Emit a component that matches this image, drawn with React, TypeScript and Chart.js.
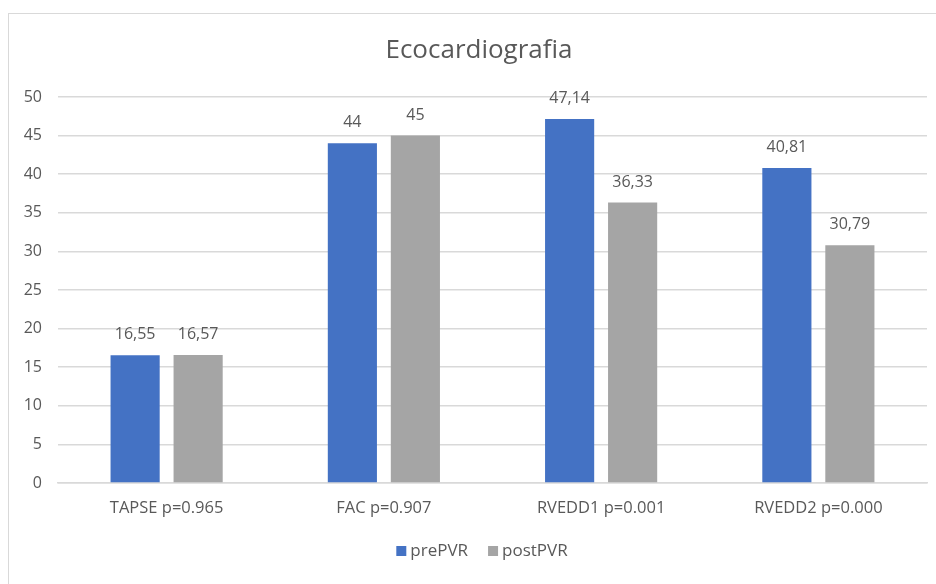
import React, { useEffect, useRef } from "react";
import { Chart, registerables } from "chart.js";

Chart.register(...registerables);

const categories = ["TAPSE p=0.965", "FAC p=0.907", "RVEDD1 p=0.001", "RVEDD2 p=0.000"];
const prePVR = [16.55, 44, 47.14, 40.81];
const postPVR = [16.57, 45, 36.33, 30.79];
const seriesNames = ["prePVR", "postPVR"];
const titleText = "Ecocardiografia";

const FONT = "'Open Sans', sans-serif";
const TEXT = "#595959";

const valueLabels = {
  id: "valueLabels",
  afterDatasetsDraw(chart: any) {
    const ctx = chart.ctx;
    ctx.save();
    ctx.font = `16px ${FONT}`;
    ctx.fillStyle = TEXT;
    ctx.textAlign = "center";
    ctx.textBaseline = "alphabetic";
    chart.data.datasets.forEach((ds: any, di: number) => {
      const meta = chart.getDatasetMeta(di);
      meta.data.forEach((el: any, i: number) => {
        const v = ds.data[i];
        ctx.fillText(String(v).replace(".", ","), el.x, el.y - 16);
      });
    });
    ctx.restore();
  },
};

const titleAndLegend = {
  id: "titleAndLegend",
  afterDraw(chart: any) {
    const ctx = chart.ctx;
    ctx.save();
    // title
    ctx.font = `26px ${FONT}`;
    ctx.fillStyle = TEXT;
    ctx.textAlign = "center";
    ctx.textBaseline = "middle";
    ctx.fillText(titleText, 479, 51);
    // legend
    ctx.font = `17px ${FONT}`;
    ctx.textAlign = "left";
    const ds = chart.data.datasets;
    const widths = ds.map((d: any) => ctx.measureText(d.label).width);
    const box = 10;
    const gapText = 4;
    const gapItem = 20;
    let total = 0;
    widths.forEach((w: number, i: number) => {
      total += box + gapText + w + (i < widths.length - 1 ? gapItem : 0);
    });
    let x = 482 - total / 2;
    const y = 551;
    ds.forEach((d: any, i: number) => {
      ctx.fillStyle = d.backgroundColor;
      ctx.fillRect(x, y - box / 2, box, box);
      ctx.fillStyle = TEXT;
      ctx.fillText(d.label, x + box + gapText, y);
      x += box + gapText + widths[i] + gapItem;
    });
    ctx.restore();
  },
};

export default function App() {
  const ref = useRef<HTMLCanvasElement | null>(null);
  useEffect(() => {
    if (!ref.current) return;
    const chart = new Chart(ref.current, {
      type: "bar",
      data: {
        labels: categories,
        datasets: [
          { label: seriesNames[0], data: prePVR, backgroundColor: "#4472C4" },
          { label: seriesNames[1], data: postPVR, backgroundColor: "#A5A5A5" },
        ],
      },
      options: {
        animation: false,
        responsive: false,
        maintainAspectRatio: false,
        layout: { padding: { left: 0, right: 9, top: 97, bottom: 56 } },
        datasets: { bar: { categoryPercentage: 0.58, barPercentage: 0.78 } },
        plugins: {
          title: { display: false },
          legend: { display: false },
          tooltip: { enabled: false },
        },
        scales: {
          x: {
            grid: { display: false, drawTicks: false },
            border: { display: true, color: "#D9D9D9", width: 1.5 },
            ticks: { color: TEXT, padding: 15, font: { family: FONT, size: 16.5 } },
            afterFit: (s: any) => {
              s.height = 45;
            },
          },
          y: {
            min: 0,
            max: 50,
            ticks: { stepSize: 5, color: TEXT, padding: 16, font: { family: FONT, size: 16 } },
            grid: { color: "#D9D9D9", lineWidth: 1.5, drawTicks: false },
            border: { display: false },
            afterFit: (s: any) => {
              s.width = 58;
            },
          },
        },
      },
      plugins: [valueLabels, titleAndLegend],
    });
    return () => chart.destroy();
  }, []);
  return (
    <div style={{ position: "fixed", left: 0, top: 0, width: 936, height: 584, overflow: "hidden", background: "#fff" }}>
      <div
        style={{
          position: "absolute",
          left: 8,
          top: 13,
          width: 1000,
          height: 700,
          border: "1.5px solid #D9D9D9",
          boxSizing: "border-box",
        }}
      />
      <canvas ref={ref} width={936} height={584} style={{ position: "absolute", left: 0, top: 0 }} />
    </div>
  );
}
